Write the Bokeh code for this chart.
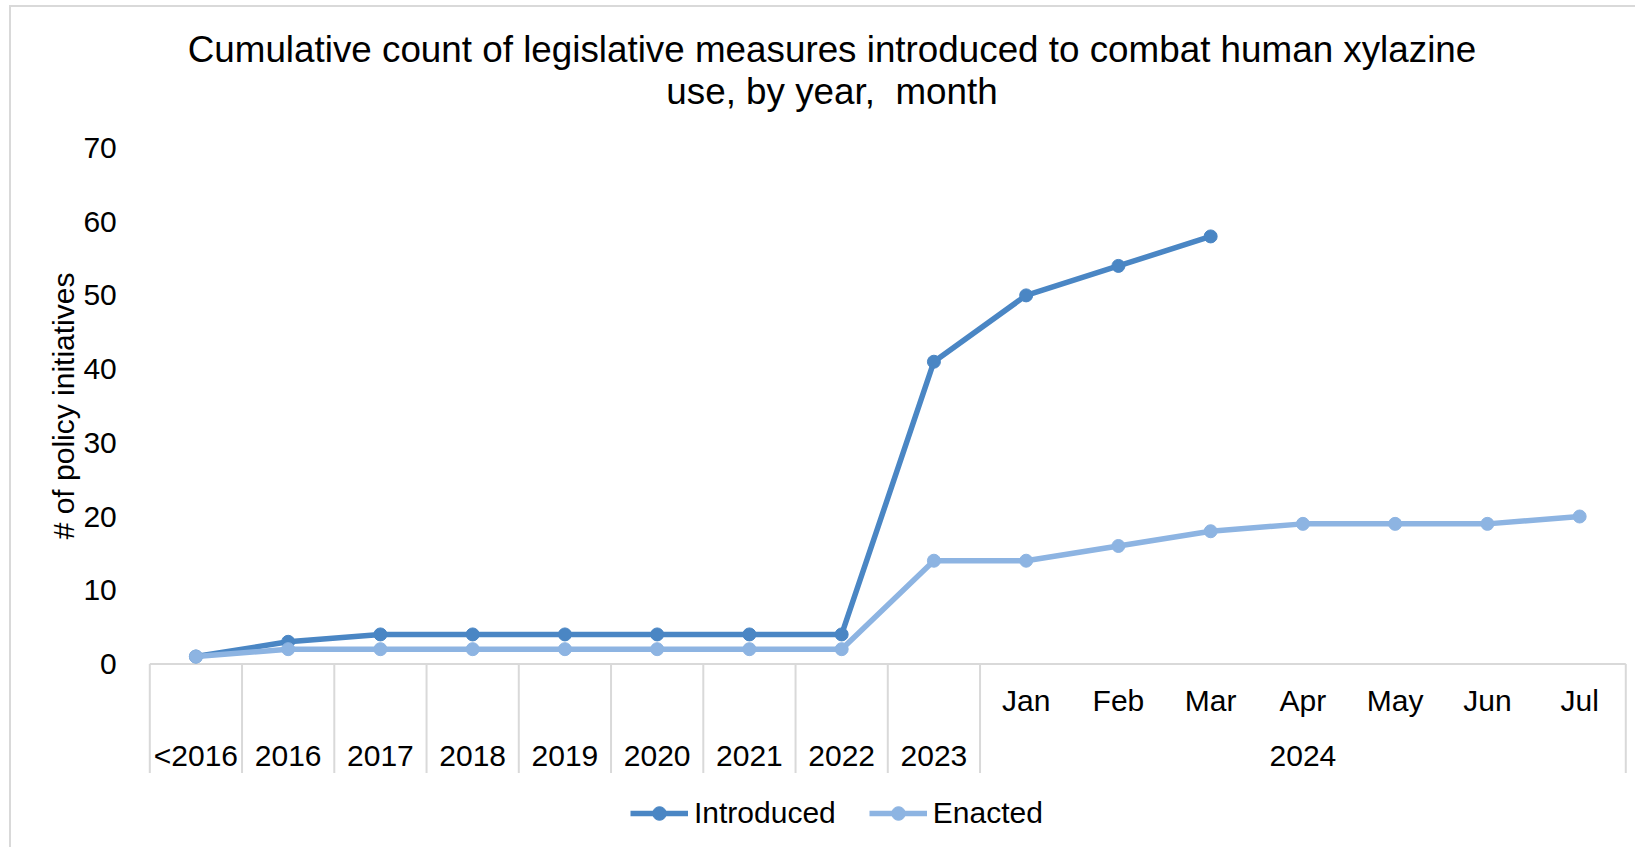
import math

from bokeh.embed import file_html
from bokeh.models import ColumnDataSource, FixedTicker, Label, Legend, LegendItem
from bokeh.plotting import figure
from bokeh.resources import INLINE

# ---- data -------------------------------------------------------------
years = ["<2016", "2016", "2017", "2018", "2019", "2020", "2021", "2022", "2023"]
months_2024 = ["Jan", "Feb", "Mar", "Apr", "May", "Jun", "Jul"]
group_2024 = "2024"

introduced = [1, 3, 4, 4, 4, 4, 4, 4, 41, 50, 54, 58]
enacted = [1, 2, 2, 2, 2, 2, 2, 2, 14, 14, 16, 18, 19, 19, 19, 20]

y_ticks = [0, 10, 20, 30, 40, 50, 60, 70]

title_lines = [
    "Cumulative count of legislative measures introduced to combat human xylazine",
    "use, by year,\u00a0 month",
]
y_title = "# of policy initiatives"

# ---- styling ----------------------------------------------------------
FONT = "Liberation Sans"
C_INTRO = "#4A86C4"
C_ENACT = "#8DB4E2"
C_RULE = "#D9D9D9"

periods = years + months_2024
n = len(periods)
xs = [i + 0.5 for i in range(n)]          # category centres on a 0..n axis
Y_LOW = -14.8                             # bottom of the category band under zero

# The frame fills the whole canvas; the ranges leave room for the title,
# the value labels, the category band and the legend around the data area.
p = figure(
    width=1626, height=842,
    x_range=(-1.4992, 16.127), y_range=(-25.18, 89.06),
    min_border=0,
    x_axis_location=None,
    toolbar_location=None, output_backend="svg",
    background_fill_color="white", border_fill_color="white",
)
p.outline_line_color = None
p.xgrid.visible = False
p.ygrid.visible = False
p.styles = {
    "margin-left": "9px", "margin-top": "5px",
    "border-left": "2px solid #D9D9D9", "border-top": "2px solid #D9D9D9",
}

yax = p.yaxis[0]
yax.fixed_location = 0
yax.ticker = FixedTicker(ticks=y_ticks)
yax.axis_line_color = None
yax.major_tick_line_color = None
yax.minor_tick_line_color = None
yax.major_label_standoff = 27
yax.major_label_text_font = FONT
yax.major_label_text_font_size = "30px"
yax.major_label_text_color = "black"

# category band: zero line and the separators between categories
p.segment(x0=[0], y0=[0], x1=[n], y1=[0], line_color=C_RULE, line_width=2)
bounds = list(range(len(years) + 1)) + [n]
p.segment(x0=bounds, y0=[0] * len(bounds), x1=bounds, y1=[Y_LOW] * len(bounds),
          line_color=C_RULE, line_width=2)

# category labels
label_style = dict(text_align="center", text_baseline="middle",
                   text_font={"value": FONT}, text_font_size="30px",
                   text_color="black")
p.text(x=xs[:len(years)], y=[-12.43] * len(years), text=years, **label_style)
p.text(x=xs[len(years):], y=[-4.97] * len(months_2024), text=months_2024, **label_style)
p.text(x=[(len(years) + n) / 2], y=[-12.43], text=[group_2024], **label_style)

# series
src_i = ColumnDataSource(dict(x=xs[:len(introduced)], y=introduced))
src_e = ColumnDataSource(dict(x=xs[:len(enacted)], y=enacted))

li = p.line("x", "y", source=src_i, line_color=C_INTRO, line_width=5.5)
si = p.scatter("x", "y", source=src_i, size=13, fill_color=C_INTRO, line_color=C_INTRO)
le = p.line("x", "y", source=src_e, line_color=C_ENACT, line_width=5.5)
se = p.scatter("x", "y", source=src_e, size=13, fill_color=C_ENACT, line_color=C_ENACT)

legend = Legend(
    items=[LegendItem(label="Introduced", renderers=[li, si]),
           LegendItem(label="Enacted", renderers=[le, se])],
    orientation="horizontal", location=(619, 19),
    padding=0, margin=0, spacing=33, label_standoff=6,
    glyph_width=58, glyph_height=34, label_height=34,
    label_text_font=FONT, label_text_font_size="30px", label_text_color="black",
    border_line_color=None, background_fill_alpha=0,
)
p.add_layout(legend, "center")

# title and value-axis title
for text, y in zip(title_lines, [83.35, 77.6]):
    p.add_layout(Label(x=7.395, y=y, text=text, text_align="center",
                       text_baseline="alphabetic", text_font=FONT,
                       text_font_size="36.8px", text_color="black"))
p.add_layout(Label(x=-0.94, y=35.0, text=y_title, angle=math.pi / 2,
                   text_align="center", text_baseline="middle", text_font=FONT,
                   text_font_size="30px", text_color="black"))

open("out.html", "w").write(file_html(p, INLINE))
